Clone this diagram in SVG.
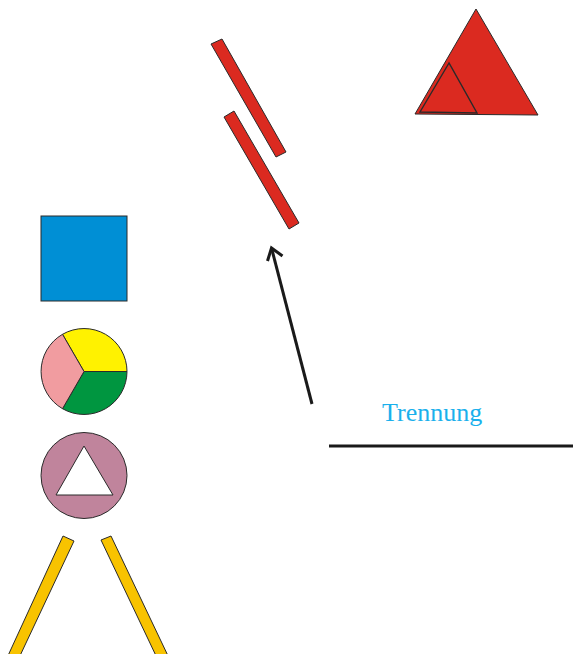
<svg xmlns="http://www.w3.org/2000/svg" width="580" height="654" viewBox="0 0 580 654">
<defs>
<style>
.sh{stroke:#2a2a2a;stroke-width:1;stroke-linejoin:miter}
.red{fill:#db2a20}
.bar{fill:#f8c300}
.conn{stroke:#1a1a1a;stroke-width:3;fill:none}
.lbl{font-family:"Liberation Serif","Times New Roman",serif;font-size:26px;fill:#1ab0ec}
</style>
</defs>
<rect width="580" height="654" fill="#ffffff"/>
<g id="bar-red-1"><polygon class="sh red" points="211,44 222,39 286,152 276,157"/></g>
<g id="bar-red-2"><polygon class="sh red" points="224,117 234,111 299,223 289,229"/></g>
<g id="triangle-red">
<polygon class="sh red" points="476,9 415,114 538,115"/>
<polygon class="sh red" points="449,63 420,112 477,113" style="stroke-width:1.4"/>
</g>
<g id="square-blue"><rect class="sh" x="41" y="216" width="86" height="85" fill="#008fd5"/></g>
<g id="pie">
<path class="sh" d="M84,371.5 L62.5,334.3 A43,43 0 0 1 127,371.5 Z" fill="#fff200"/>
<path class="sh" d="M84,371.5 L127,371.5 A43,43 0 0 1 62.5,408.7 Z" fill="#009640"/>
<path class="sh" d="M84,371.5 L62.5,408.7 A43,43 0 0 1 62.5,334.3 Z" fill="#f19ca0"/>
</g>
<g id="circle-triangle">
<circle class="sh" cx="84" cy="475.5" r="43" fill="#c0849c"/>
<polygon class="sh" points="84,446 56,495 113,495" fill="#ffffff"/>
</g>
<g id="bar-yellow-left"><polygon class="sh bar" points="63,536 74,541 18,660 6,660"/></g>
<g id="bar-yellow-right"><polygon class="sh bar" points="101,540 111,536 170,660 158,660"/></g>
<g id="label"><text class="lbl" x="382" y="421">Trennung</text></g>
<g id="connectors">
<line class="conn" x1="312" y1="404" x2="271.5" y2="248"/>
<polyline class="conn" points="267.5,261 271.5,248 282.5,256"/>
<line class="conn" x1="329" y1="446" x2="573" y2="446"/>
</g>
</svg>
